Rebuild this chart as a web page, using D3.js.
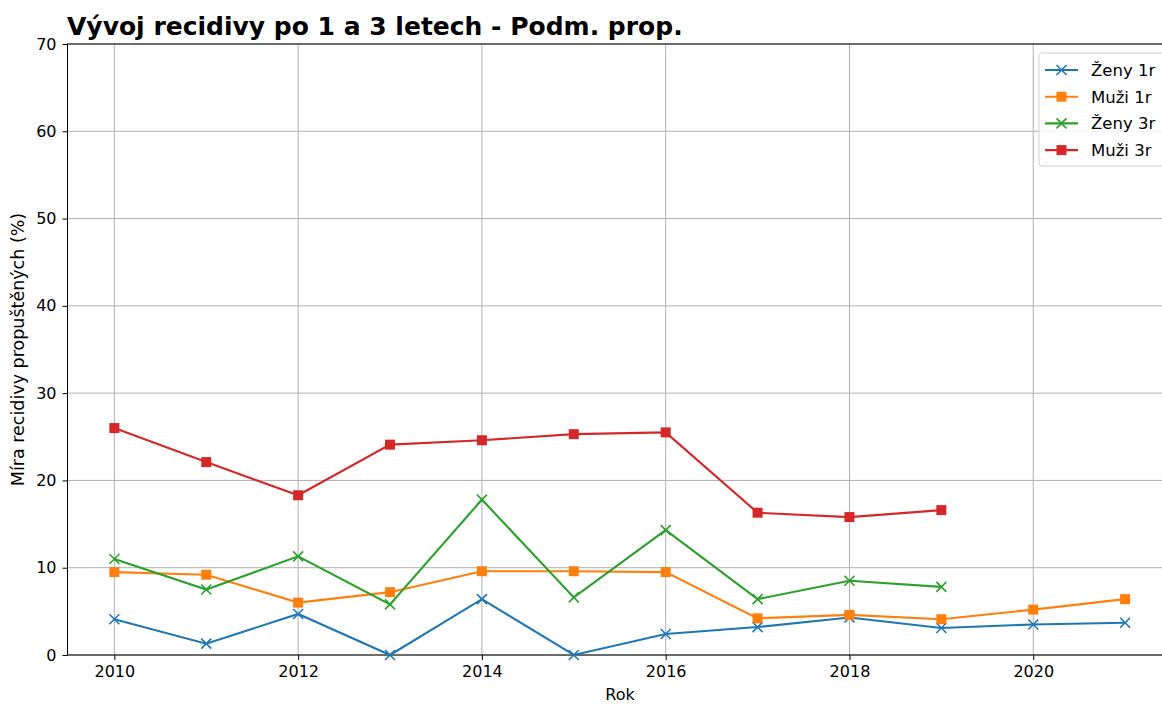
<!DOCTYPE html>
<html><head><meta charset="utf-8">
<script src="https://cdn.jsdelivr.net/npm/d3@7"></script>
<style>body{margin:0;background:#fff;} text{font-family:"DejaVu Sans",sans-serif;}</style>
</head><body>
<svg id="c" width="1162" height="705"></svg>
<script>
const years = [2010,2011,2012,2013,2014,2015,2016,2017,2018,2019,2020,2021];
const zeny1r = [4.1,1.3,4.7,0.0,6.4,0.0,2.4,3.2,4.3,3.1,3.5,3.7];
const muzi1r = [9.5,9.2,6.0,7.2,9.6,9.6,9.5,4.2,4.6,4.1,5.2,6.4];
const zeny3r = [11.0,7.5,11.3,5.8,17.8,6.6,14.3,6.4,8.5,7.8];
const muzi3r = [26.0,22.1,18.3,24.1,24.6,25.3,25.5,16.3,15.8,16.6];
const xTicks = [2010,2012,2014,2016,2018,2020];
const yTicks = [0,10,20,30,40,50,60,70];
const seriesNames = ["Ženy 1r","Muži 1r","Ženy 3r","Muži 3r"];
const colors = ["#1f77b4","#ff7f0e","#2ca02c","#d62728"];
const markers = ["x","s","x","s"];
const seriesData = [zeny1r, muzi1r, zeny3r, muzi3r];

const svg = d3.select("#c");
const L=67.5, R=1172, T=44, B=655;
const x = d3.scaleLinear().domain([2009.49,2021.51]).range([L,R]);
const y = d3.scaleLinear().domain([0,70]).range([B,T]);
const MS = 5;

// grid
const g = svg.append("g");
g.selectAll(".gx").data(xTicks).join("line").attr("x1",d=>x(d)).attr("x2",d=>x(d)).attr("y1",T).attr("y2",B).attr("stroke","#b0b0b0").attr("stroke-width",1);
g.selectAll(".gy").data(yTicks).join("line").attr("x1",L).attr("x2",R).attr("y1",d=>y(d)).attr("y2",d=>y(d)).attr("stroke","#b0b0b0").attr("stroke-width",1);

// axes
const xa = svg.append("g").attr("transform",`translate(0,${B})`).call(d3.axisBottom(x).tickValues(xTicks).tickFormat(d3.format("d")).tickSize(5).tickPadding(6));
const ya = svg.append("g").attr("transform",`translate(${L},0)`).call(d3.axisLeft(y).tickValues(yTicks).tickSize(5).tickPadding(6));
[xa,ya].forEach(a=>{a.select(".domain").remove();a.selectAll("text").attr("font-size","16px").attr("fill","#000").style("font-family","DejaVu Sans");a.selectAll("line").attr("stroke","#000");});
// spines
svg.append("rect").attr("x",L).attr("y",T).attr("width",R-L).attr("height",B-T).attr("fill","none").attr("stroke","#000").attr("stroke-width",1);

function drawMarker(sel, m, cx, cy, col){
  if(m==="s") sel.append("rect").attr("x",cx-MS).attr("y",cy-MS).attr("width",2*MS).attr("height",2*MS).attr("fill",col);
  else sel.append("path").attr("d",`M${cx-MS},${cy-MS}L${cx+MS},${cy+MS}M${cx-MS},${cy+MS}L${cx+MS},${cy-MS}`).attr("stroke",col).attr("stroke-width",1.6).attr("fill","none");
}

// lines
const pg = svg.append("g");
seriesData.forEach((vals,i)=>{
  const pts = vals.map((v,j)=>[years[j],v]);
  pg.append("path").datum(pts).attr("fill","none").attr("stroke",colors[i]).attr("stroke-width",2.1)
    .attr("d",d3.line().x(d=>x(d[0])).y(d=>y(d[1])));
  const mg = pg.append("g");
  pts.forEach(p=>drawMarker(mg, markers[i], x(p[0]), y(p[1]), colors[i]));
});

// legend
const lg = svg.append("g");
lg.append("rect").attr("x",1039).attr("y",53).attr("width",134).attr("height",113).attr("rx",3).attr("fill","#fff").attr("fill-opacity",0.8).attr("stroke","#d0d0d0").attr("stroke-width",1);
seriesNames.forEach((n,i)=>{
  const ly = 70 + i*26.7;
  lg.append("line").attr("x1",1045).attr("x2",1078).attr("y1",ly).attr("y2",ly).attr("stroke",colors[i]).attr("stroke-width",2.1);
  drawMarker(lg, markers[i], 1061.5, ly, colors[i]);
  lg.append("text").attr("x",1091).attr("y",ly+6).attr("font-size","16.5px").attr("fill","#000").text(n);
});

// labels
svg.append("text").attr("x",620).attr("y",700).attr("text-anchor","middle").attr("font-size","16px").text("Rok");
svg.append("text").attr("transform","translate(24,349.5) rotate(-90)").attr("text-anchor","middle").attr("font-size","17.5px").text("Míra recidivy propuštěných (%)");
svg.append("text").attr("x",67).attr("y",35).attr("font-size","25px").attr("font-weight","bold").text("Vývoj recidivy po 1 a 3 letech - Podm. prop.");
</script>
</body></html>
